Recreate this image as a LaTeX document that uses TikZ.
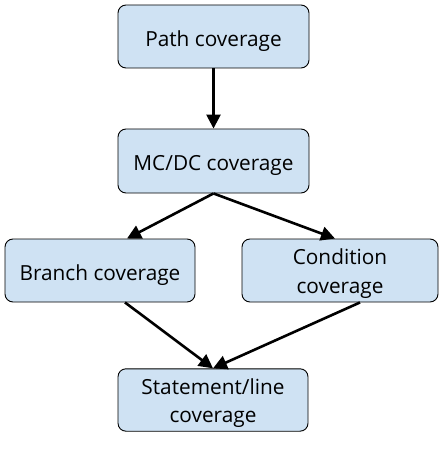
\documentclass[tikz,border=0pt]{standalone}
\usepackage{fontspec}
\setmainfont{Open Sans}
\usetikzlibrary{arrows.meta}
\definecolor{boxfill}{HTML}{CFE2F3}
\newcommand{\boxtext}[2][7pt]{\raisebox{0pt}[\dimexpr\height+#1\relax][\depth]{\begin{tabular}{@{}c@{}}#2\end{tabular}}}
\tikzset{
  box/.style={draw=black, line width=0.9pt, fill=boxfill, rounded corners=8pt,
    align=center, inner sep=0pt, font=\fontsize{20.8}{28.3}\selectfont},
  conn/.style={line width=2.6pt, -{Triangle[length=14pt,width=14pt]}}
}
\begin{document}
\begin{tikzpicture}[x=1pt,y=-1pt]
\useasboundingbox (0,0) rectangle (447,449);
\node[box, minimum width=191pt, minimum height=63pt] (path) at (213.5,36.5) {\boxtext[7.7pt]{Path coverage}};
\node[box, minimum width=191pt, minimum height=64pt] (mcdc) at (213.5,161) {\boxtext[7.7pt]{MC/DC coverage}};
\node[box, minimum width=190pt, minimum height=63pt] (branch) at (100,270.5) {\boxtext[7.7pt]{Branch coverage}};
\node[box, minimum width=196pt, minimum height=63pt] (cond) at (340,270.5) {\boxtext[5.8pt]{Condition\\coverage}};
\node[box, minimum width=190pt, minimum height=62pt] (stmt) at (213,400) {\boxtext[5.8pt]{Statement/line\\coverage}};
\draw[conn] (path.south) -- (mcdc.north);
\draw[conn] (mcdc.south) -- ([xshift=27pt]branch.north);
\draw[conn] (mcdc.south) -- ([xshift=-5pt]cond.north);
\draw[conn] ([xshift=25pt]branch.south) -- (stmt.north);
\draw[conn] ([xshift=20pt]cond.south) -- (stmt.north);
\end{tikzpicture}
\end{document}
